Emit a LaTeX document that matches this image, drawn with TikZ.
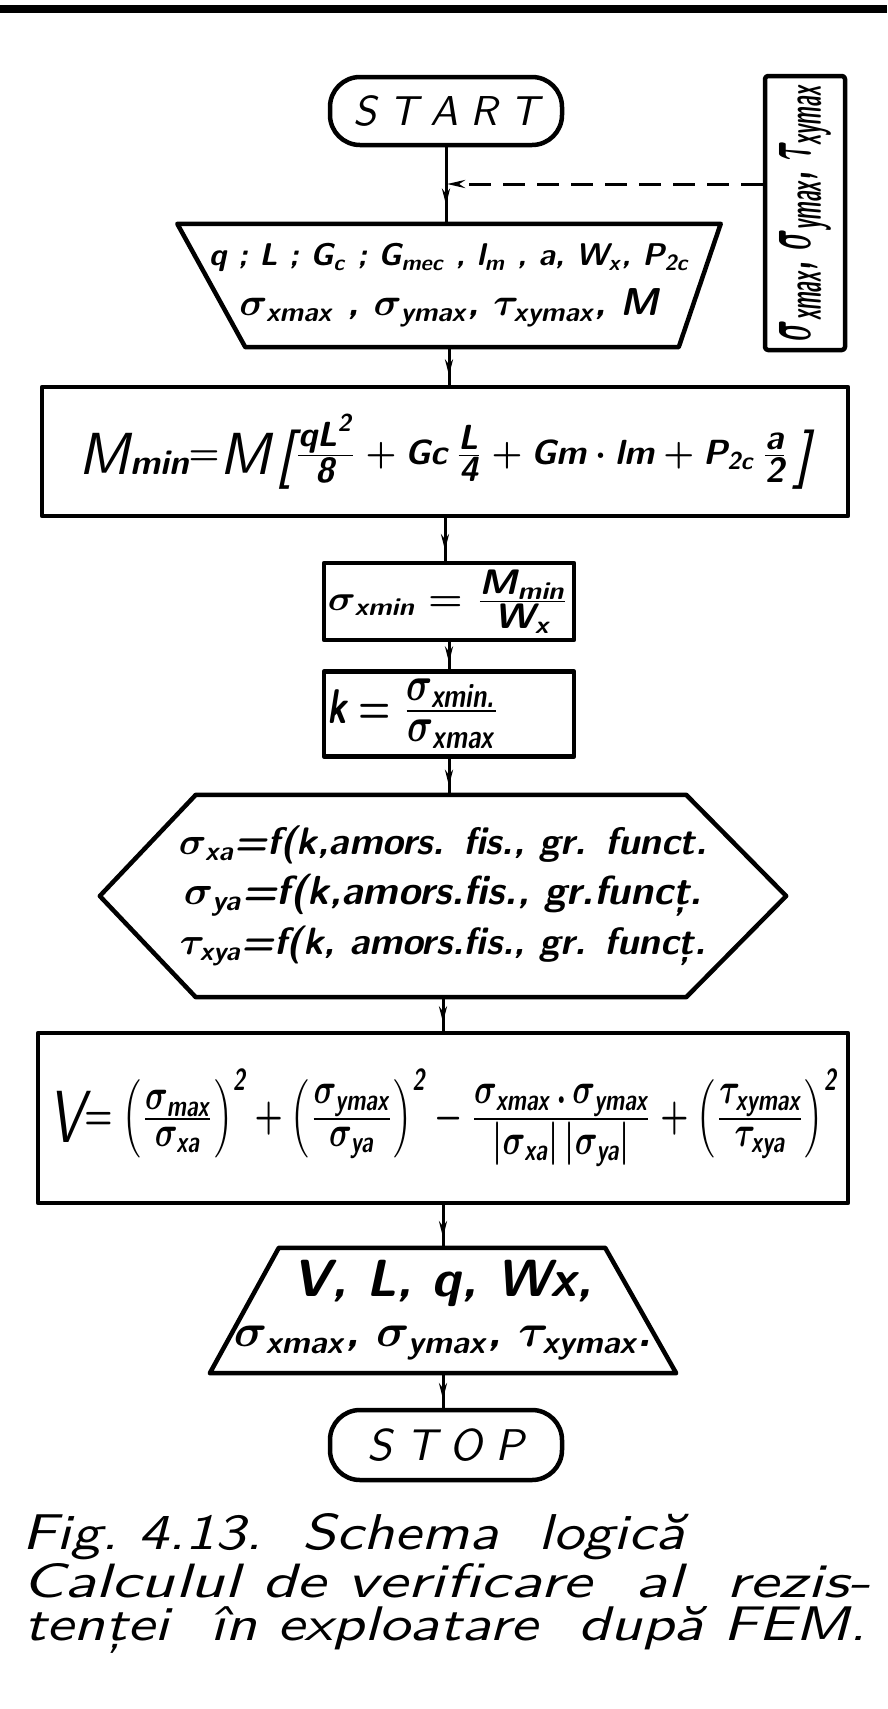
\documentclass[tikz,border=0pt]{standalone}
\usepackage{amsmath}
\usepackage{graphicx}
\usepackage{fontspec}
\usetikzlibrary{arrows.meta,decorations.markings,calc}
\newcommand{\tx}[1]{\text{#1}}
\newcommand{\nfrac}[2]{{\textstyle\frac{\textstyle #1}{\textstyle #2}}}
\newcommand{\bigletter}[1]{\raisebox{-0.3em}{\scalebox{1.7}{\mdseries #1}}}
\tikzset{
  every node/.style={font=\sffamily\itshape},
  boxfont/.style={font=\sffamily\bfseries\itshape\mathversion{bold}},
  boxline/.style={line width=4.5pt, line join=round},
  procbox/.style={draw, boxline, boxfont, inner sep=0pt, align=center},
  term/.style={draw, boxline, rounded corners=30pt, inner sep=0pt, align=center},
  frame/.style={inner sep=0pt, align=center},
  lines50/.style={font=\sffamily\bfseries\itshape\mathversion{bold}\fontsize{10}{50}\selectfont},
  flow/.style={line width=3pt, postaction={decorate}, decoration={markings, mark=at position 0.75 with {\arrow{Stealth[length=16pt,width=8pt]}}}},
  dashline/.style={line width=3pt, dash pattern=on 22pt off 12pt, -{Stealth[length=18pt,width=8pt]}},
  capline/.style={anchor=base west, inner sep=0pt, font=\sffamily\itshape\addfontfeatures{LetterSpace=12}},
}
\begin{document}
\begin{tikzpicture}[x=1pt,y=-1pt]
\useasboundingbox (0,0) rectangle (887,1709);
\fill[white] (0,0) rectangle (887,1709);
\draw[line width=8pt] (0,9) -- (887,9);

% terminals and boxes
\node[term, minimum width=232pt, minimum height=68pt] (start) at (446,111)
  {\resizebox{185pt}{!}{S\kern3pt T\kern3pt A\kern3pt R\kern3pt T}};

\node[procbox, rounded corners=3pt, minimum width=80pt, minimum height=274pt] (side) at (805,213) {};
\node[rotate=90, inner sep=0pt, boxfont] (sidetext) at (side.center)
  {\resizebox*{256pt}{52pt}{$\sigma_{\tx{xmax}}$, $\sigma_{\tx{ymax}}$, $\tau_{\tx{xymax}}$}};

\node[frame, lines50, minimum width=543pt, minimum height=123pt] (in) at (449,285.5)
  {\resizebox{480pt}{!}{q ; L ; G$_{\tx{c}}$ ; G$_{\tx{mec}}$ , l$_{\tx{m}}$ , a, W$_{\tx{x}}$, P$_{\tx{2c}}$}\\
   \resizebox{419pt}{!}{$\sigma_{\tx{xmax}}$ , $\sigma_{\tx{ymax}}$, $\tau_{\tx{xymax}}$, M}};
\draw[boxline] (in.north west) -- (in.north east) -- ($(in.south east)+(-42,0)$) -- ($(in.south west)+(68,0)$) -- cycle;

\node[procbox, minimum width=806pt, minimum height=129pt] (mmin) at (445,451.5)
  {\resizebox*{732pt}{76pt}{\bigletter{M}\raisebox{-0.3em}{min}$=$\bigletter{M}\,\bigletter{[}$\nfrac{\tx{qL}^{\tx{2}}}{\tx{8}}+\tx{Gc}\,\nfrac{\tx{L}}{\tx{4}}+\tx{Gm}\cdot\tx{lm}+\tx{P}_{\tx{2c}}\,\nfrac{\tx{a}}{\tx{2}}$\,\bigletter{]}}};

\node[procbox, minimum width=250pt, minimum height=77pt] (sxmin) at (449,601.5)
  {\resizebox*{242pt}{64pt}{$\sigma_{\tx{xmin}}=\nfrac{\tx{M}_{\tx{min}}}{\tx{W}_{\tx{x}}}$}};

\node[procbox, minimum width=250pt, minimum height=85pt] (kbox) at (449,714)
  {\resizebox*{173pt}{70pt}{$\tx{k}=\nfrac{\sigma_{\tx{xmin.}}}{\sigma_{\tx{xmax}}}$}\hspace{70pt}};

\node[frame, lines50, minimum width=686pt, minimum height=202pt] (hex) at (443,896)
  {\resizebox{528pt}{!}{$\sigma_{\tx{xa}}$=f(k,amors. fis., gr. funct.}\\
   \resizebox{518pt}{!}{$\sigma_{\tx{ya}}$=f(k,amors.fis., gr.funcț.}\\
   \resizebox{526pt}{!}{$\tau_{\tx{xya}}$=f(k, amors.fis., gr. funcț.}};
\draw[boxline] (hex.west) -- ($(hex.north west)+(96,0)$) -- ($(hex.north east)+(-100,0)$) -- (hex.east) -- ($(hex.south east)+(-100,0)$) -- ($(hex.south west)+(96,0)$) -- cycle;

\node[procbox, minimum width=810pt, minimum height=170pt] (vbox) at (443,1118)
  {\resizebox*{789pt}{98pt}{\bigletter{V}$=\left(\nfrac{\sigma_{\tx{max}}}{\sigma_{\tx{xa}}}\right)^{\tx{2}}+\left(\nfrac{\sigma_{\tx{ymax}}}{\sigma_{\tx{ya}}}\right)^{\tx{2}}-\nfrac{\sigma_{\tx{xmax}}\,.\,\sigma_{\tx{ymax}}}{|\sigma_{\tx{xa}}|\,|\sigma_{\tx{ya}}|}+\left(\nfrac{\tau_{\tx{xymax}}}{\tau_{\tx{xya}}}\right)^{\tx{2}}$}};

\node[frame, lines50, minimum width=466pt, minimum height=125pt] (out) at (443,1310.5)
  {\resizebox{300pt}{!}{V, L, q, Wx,}\\
   \resizebox{418pt}{!}{$\sigma_{\tx{xmax}}$, $\sigma_{\tx{ymax}}$, $\tau_{\tx{xymax}}$.}};
\draw[boxline] ($(out.north west)+(69,0)$) -- ($(out.north east)+(-71,0)$) -- (out.south east) -- (out.south west) -- cycle;

\node[term, minimum width=232pt, minimum height=70pt] (stop) at (446,1445)
  {\resizebox{156pt}{!}{S\kern3pt T\kern3pt O\kern3pt P}};

% connectors
\coordinate (j) at (447,184);
\draw[flow] (start.south) -- (start.south |- in.north);
\draw[dashline] (side.west |- j) -- (j);
\draw[flow] (in.south) -- (in.south |- mmin.north);
\draw[flow] (mmin.south) -- (mmin.south |- sxmin.north);
\draw[flow] (sxmin.south) -- (sxmin.south |- kbox.north);
\draw[flow] (kbox.south) -- (kbox.south |- hex.north);
\draw[flow] (hex.south) -- (hex.south |- vbox.north);
\draw[flow] (vbox.south) -- (vbox.south |- out.north);
\draw[flow] (out.south) -- (out.south |- stop.north);

% caption
\node[capline] (cap1) at (22,1549) {\resizebox{662pt}{36pt}{Fig.\ 4.13.\ \ Schema\ \ logică}};
\node[capline] (cap2) at (22,1597) {\resizebox{848pt}{34pt}{Calculul de verificare\ \ al\ \ rezis-}};
\node[capline] (cap3) at (24,1640) {\resizebox{842pt}{34pt}{tenței\ \ în exploatare\ \ după FEM.}};
\end{tikzpicture}
\end{document}
